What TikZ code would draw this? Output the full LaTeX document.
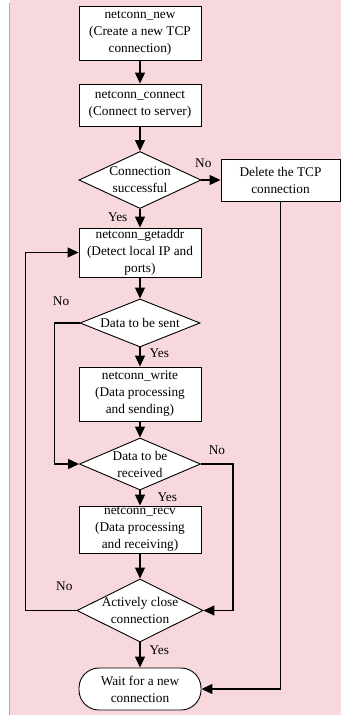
\documentclass[tikz,border=0pt]{standalone}
\usepackage{fontspec}
\setmainfont{Liberation Serif}
\usetikzlibrary{shapes.geometric,arrows.meta}
\definecolor{bgpink}{RGB}{247,216,220}
\definecolor{edgered}{RGB}{236,146,154}
\tikzset{
  txt/.style={font=\fontsize{13.3}{17}\selectfont},
  proc/.style={txt, draw, fill=white, line width=0.9pt, minimum width=122pt, inner sep=0pt, align=center},
  decide/.style={txt, diamond, draw, fill=white, line width=0.9pt, inner xsep=-4pt, inner ysep=0pt, align=center},
  term/.style={proc, rounded corners=20pt},
  arr/.style={-{Triangle[length=11pt,width=10pt]}, line width=1.2pt},
  lab/.style={txt, inner sep=0pt}
}
\begin{document}
\begin{tikzpicture}[x=1pt, y=-1pt]
  % 背景
  \useasboundingbox (0,0) rectangle (341,715);
  \fill[bgpink] (10,0) rectangle (341,715);
  \draw[edgered, line width=1.5pt] (9.3,3) -- (9.3,715);

  % 処理ボックス
  \node[proc, minimum height=54pt] (new) at (140,33) {netconn\_new\\(Create a new TCP\\connection)};
  \node[proc, minimum height=42pt] (conn) at (140,105) {netconn\_connect\\(Connect to server)};
  \node[decide, minimum width=122pt, minimum height=57pt, shape aspect=2.14] (d1) at (140,180) {Connection\\successful};
  \node[proc, minimum width=119pt, minimum height=42pt] (del) at (280.5,180) {Delete the TCP\\connection};
  \node[proc, minimum height=49pt] (get) at (140,252.5) {netconn\_getaddr\\(Detect local IP and\\ports)};
  \node[decide, minimum width=120pt, minimum height=48pt, shape aspect=2.5] (d2) at (140,323) {Data to be sent};
  \node[proc, minimum height=54pt] (wr) at (140,394) {netconn\_write\\(Data processing\\and sending)};
  \node[decide, minimum width=121pt, minimum height=52pt, shape aspect=2.33] (d3) at (140,464) {Data to be\\received};
  \node[proc, minimum height=47pt] (rv) at (140,529.5) {netconn\_recv\\(Data processing\\and receiving)};
  \node[decide, minimum width=126pt, minimum height=63pt, shape aspect=2] (d4) at (140,610.5) {Actively close\\connection};
  \node[term, minimum height=42pt] (wait) at (140,689) {Wait for a new\\connection};

  % 直線の矢印
  \foreach \a/\b in {new/conn, conn/d1, get/d2, wr/d3, rv/d4} {
    \draw[arr] (\a) -- (\b);
  }

  % 分岐
  \draw[arr] (d1) -- node[lab, pos=0.1, above=12pt] (no1) {No} (del);
  \draw[arr] (d1) -- node[lab, pos=0.45, left=12pt] (yes1) {Yes} (get);
  \draw[arr] (d2) -- node[lab, pos=0.3, right=9pt] (yes2) {Yes} (wr);
  \draw[arr] (d2.west) -- ++(-25,0) node[lab, above=16.5pt, xshift=6.5pt] (no2) {No} |- (d3.west);
  \draw[arr] (d3) -- node[lab, pos=0.45, right=17pt] (yes3) {Yes} (rv);
  \draw[arr] (d3.east) -- node[lab, midway, above=8.5pt] (no3) {No} ++(32,0) |- (d4.east);
  \draw[arr] (d4) -- node[lab, pos=0.3, right=9pt] (yes4) {Yes} (wait);
  \draw[arr] (d4.west) -- node[lab, pos=0.24, above=19pt] (no4) {No} ++(-51,0) |- (get.west);
  \draw[arr] (del.south) |- (wait.east);
\end{tikzpicture}
\end{document}
